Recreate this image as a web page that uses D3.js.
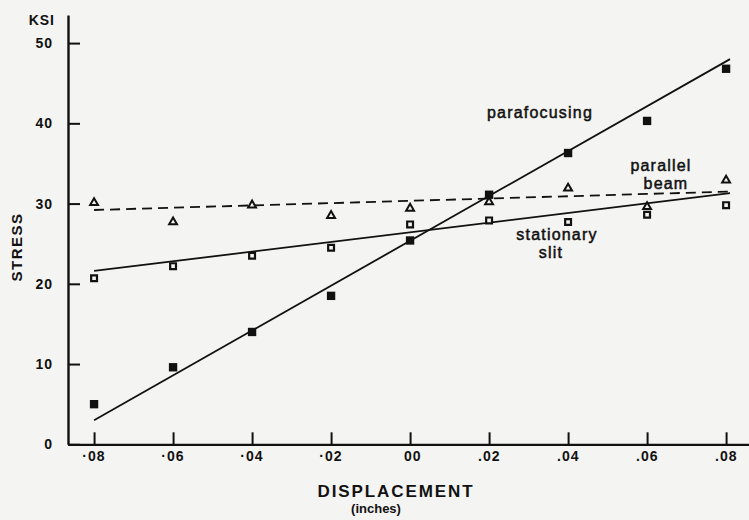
<!DOCTYPE html>
<html>
<head>
<meta charset="utf-8">
<script src="https://cdn.jsdelivr.net/npm/d3@7"></script>
<style>
  html, body { margin: 0; padding: 0; background: #f4f4f2; }
  svg { display: block; background: #f4f4f2; }
  .lbl { font-family: "Liberation Sans", Arial, Helvetica, sans-serif; fill: #111; }
</style>
</head>
<body>
<svg id="chart" width="749" height="520"></svg>
<script>
// Displacement positions (inches) and measured stress (ksi) for each geometry
const displacement = [-0.08, -0.06, -0.04, -0.02, 0.00, 0.02, 0.04, 0.06, 0.08];
const parafocusing = [5.0, 9.6, 14.0, 18.5, 25.4, 31.1, 36.3, 40.3, 46.8];
const stationarySlit = [20.7, 22.2, 23.5, 24.5, 27.4, 27.9, 27.7, 28.6, 29.8];
const parallelBeam = [30.1, 27.7, 29.8, 28.5, 29.4, 30.2, 31.9, 29.6, 32.9];

// Straight-line fits: [x0, x1] and [y0, y1]
const fitX = [-0.08, 0.081];
const parafocusingFit = [3.0, 48.0];
const stationarySlitFit = [21.6, 31.3];
const parallelBeamFit = [29.2, 31.5];

// Axis ticks and labels
const xTicks = [-0.08, -0.06, -0.04, -0.02, 0.00, 0.02, 0.04, 0.06, 0.08];
const xTickLabels = ["\u00b708", "\u00b706", "\u00b704", "\u00b702", "00", ".02", ".04", ".06", ".08"];
const yTicks = [0, 10, 20, 30, 40, 50];

const svg = d3.select("#chart");
const ink = "#111";
const paper = "#f4f4f2";

const x = d3.scaleLinear().domain([-0.0866, 0.0858]).range([68, 749]);
const y = d3.scaleLinear().domain([0, 53.5]).range([444.3, 15]);

// Y axis: ticks point into the plot, labels to the left
const yAxis = d3.axisLeft(y)
  .tickValues(yTicks)
  .tickSizeInner(-12)
  .tickSizeOuter(0)
  .tickPadding(15)
  .tickFormat(d3.format("d"));
const gy = svg.append("g").attr("transform", "translate(68,0)").call(yAxis);
gy.select(".domain").attr("stroke", ink).attr("stroke-width", 2.4);
gy.selectAll(".tick line").attr("stroke", ink).attr("stroke-width", 2);
gy.selectAll(".tick text")
  .attr("class", "lbl")
  .attr("fill", ink)
  .style("font-size", "14px")
  .style("font-weight", "bold")
  .style("letter-spacing", "1px");

// X axis: ticks point upward, labels below
const xAxis = d3.axisBottom(x)
  .tickValues(xTicks)
  .tickSizeInner(-12)
  .tickSizeOuter(0)
  .tickPadding(6.5)
  .tickFormat((d, i) => xTickLabels[i]);
const gx = svg.append("g").attr("transform", "translate(0,444.3)").call(xAxis);
gx.select(".domain").attr("stroke", ink).attr("stroke-width", 2.2);
gx.selectAll(".tick line").attr("stroke", ink).attr("stroke-width", 2);
gx.selectAll(".tick text")
  .attr("class", "lbl")
  .attr("fill", ink)
  .attr("text-anchor", "end")
  .attr("x", 11)
  .style("font-size", "14px")
  .style("font-weight", "bold")
  .style("letter-spacing", "1px");

// Fit lines
const line = d3.line().x(d => x(d[0])).y(d => y(d[1]));
function fit(vals) { return fitX.map((v, i) => [v, vals[i]]); }

svg.append("path").datum(fit(parafocusingFit))
  .attr("d", line).attr("fill", "none").attr("stroke", ink).attr("stroke-width", 1.8);
svg.append("path").datum(fit(stationarySlitFit))
  .attr("d", line).attr("fill", "none").attr("stroke", ink).attr("stroke-width", 1.8);
svg.append("path").datum(fit(parallelBeamFit))
  .attr("d", line).attr("fill", "none").attr("stroke", ink).attr("stroke-width", 1.8)
  .attr("stroke-dasharray", "10,6");

// Markers
const sq = d3.symbol().type(d3.symbolSquare);
const tri = d3.symbol().type(d3.symbolTriangle);

svg.append("g").selectAll("path")
  .data(displacement.map((d, i) => [d, parallelBeam[i]]))
  .join("path")
  .attr("transform", d => `translate(${x(d[0])},${y(d[1])})`)
  .attr("d", tri.size(27)())
  .attr("fill", paper).attr("stroke", ink).attr("stroke-width", 2);

svg.append("g").selectAll("path")
  .data(displacement.map((d, i) => [d, stationarySlit[i]]))
  .join("path")
  .attr("transform", d => `translate(${x(d[0])},${y(d[1])})`)
  .attr("d", sq.size(34)())
  .attr("fill", paper).attr("stroke", ink).attr("stroke-width", 2.2);

svg.append("g").selectAll("path")
  .data(displacement.map((d, i) => [d, parafocusing[i]]))
  .join("path")
  .attr("transform", d => `translate(${x(d[0])},${y(d[1])})`)
  .attr("d", sq.size(70)())
  .attr("fill", ink);

// Axis titles
svg.append("text").attr("class", "lbl")
  .attr("x", 55).attr("y", 25).attr("text-anchor", "end")
  .style("font-size", "14px").style("font-weight", "bold").style("letter-spacing", "1px")
  .text("KSI");

svg.append("text").attr("class", "lbl")
  .attr("transform", "translate(22,247) rotate(-90)")
  .attr("text-anchor", "middle")
  .style("font-size", "15px").style("font-weight", "bold").style("letter-spacing", "1.5px")
  .text("STRESS");

svg.append("text").attr("class", "lbl")
  .attr("x", 396).attr("y", 497).attr("text-anchor", "middle")
  .style("font-size", "17px").style("font-weight", "bold").style("letter-spacing", "1.9px")
  .text("DISPLACEMENT");

svg.append("text").attr("class", "lbl")
  .attr("x", 376).attr("y", 513).attr("text-anchor", "middle")
  .style("font-size", "13px").style("font-weight", "bold")
  .text("(inches)");

// Series annotations
const notes = [
  ["parafocusing", 540, 118],
  ["parallel", 661, 171],
  ["beam", 666, 189],
  ["stationary", 557, 240],
  ["slit", 551, 258]
];
svg.append("g").selectAll("text")
  .data(notes)
  .join("text")
  .attr("class", "lbl")
  .attr("x", d => d[1]).attr("y", d => d[2])
  .attr("text-anchor", "middle")
  .style("font-size", "16px")
  .style("letter-spacing", "1.2px")
  .attr("stroke", ink).attr("stroke-width", 0.5)
  .text(d => d[0]);
</script>
</body>
</html>
